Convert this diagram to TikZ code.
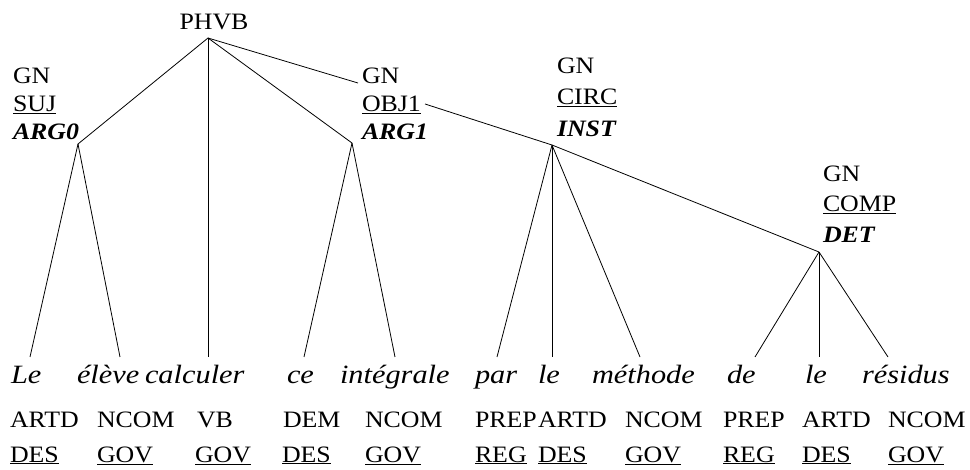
\documentclass[tikz,border=0pt]{standalone}
\usepackage{fontspec}
\setmainfont{Liberation Serif}[FakeStretch=1.1]
\newfontfamily\wordfont{Liberation Serif}[FakeStretch=1.15]
\begin{document}
\begin{tikzpicture}[x=1pt,y=-1pt,
  lbl/.style={inner sep=0pt, outer sep=0pt, anchor=base west, font=\fontsize{23.5}{28}\selectfont},
  wrd/.style={lbl, font=\fontsize{26.4}{30}\wordfont\itshape},
  arg/.style={lbl, font=\fontsize{23.5}{28}\selectfont\bfseries\itshape},
  edge/.style={line width=0.8pt}]
\useasboundingbox (0,0) rectangle (970,470);
% labels
\node[lbl, anchor=base] (phvb) at (214,30) {PHVB};
\node[lbl] (g1) at (13,84) {GN};
\node[lbl] (s1) at (13,112) {\underline{SUJ}};
\node[arg] (r1) at (13,140) {ARG0};
\node[lbl] (g2) at (362,84) {GN};
\node[lbl] (s2) at (362,112) {\underline{OBJ1}};
\node[arg] (r2) at (362,140) {ARG1};
\node[lbl] (g3) at (557,74) {GN};
\node[lbl] (s3) at (557,105) {\underline{CIRC}};
\node[arg] (r3) at (557,137) {INST};
\node[lbl] (g4) at (823,182) {GN};
\node[lbl] (s4) at (823,212) {\underline{COMP}};
\node[arg] (r4) at (823,243) {DET};
% words
\node[wrd] (w1) at (11,384) {Le};
\node[wrd] (w2) at (77,384) {élève};
\node[wrd] (w3) at (145,384) {calculer};
\node[wrd] (w4) at (287,384) {ce};
\node[wrd] (w5) at (340,384) {intégrale};
\node[wrd] (w6) at (475,384) {par};
\node[wrd] (w7) at (538,384) {le};
\node[wrd] (w8) at (592,384) {méthode};
\node[wrd] (w9) at (727,384) {de};
\node[wrd] (w10) at (805,384) {le};
\node[wrd] (w11) at (862,384) {résidus};
% tags
\node[lbl] (t1) at (10,428) {ARTD};
\node[lbl] (t2) at (97,428) {NCOM};
\node[lbl] (t3) at (197,428) {VB};
\node[lbl] (t4) at (283,428) {DEM};
\node[lbl] (t5) at (365,428) {NCOM};
\node[lbl] (t6) at (475,428) {PREP};
\node[lbl] (t7) at (538,428) {ARTD};
\node[lbl] (t8) at (625,428) {NCOM};
\node[lbl] (t9) at (723,428) {PREP};
\node[lbl] (t10) at (802,428) {ARTD};
\node[lbl] (t11) at (888,428) {NCOM};
\node[lbl] (f1) at (10,462) {\underline{DES}};
\node[lbl] (f2) at (97,462) {\underline{GOV}};
\node[lbl] (f3) at (195,462) {\underline{GOV}};
\node[lbl] (f4) at (282,462) {\underline{DES}};
\node[lbl] (f5) at (365,462) {\underline{GOV}};
\node[lbl] (f6) at (475,462) {\underline{REG}};
\node[lbl] (f7) at (538,462) {\underline{DES}};
\node[lbl] (f8) at (625,462) {\underline{GOV}};
\node[lbl] (f9) at (723,462) {\underline{REG}};
\node[lbl] (f10) at (802,462) {\underline{DES}};
\node[lbl] (f11) at (888,462) {\underline{GOV}};
% tree points
\coordinate (root) at (208,38);
\coordinate (a0) at (78,144);
\coordinate (a1) at (352,143);
\coordinate (ai) at (552,145);
\coordinate (ad) at (819,252);
\coordinate (og) at (358,83);
\coordinate (oe) at (425,104);
\foreach \n/\x in {1/30,2/120,3/208,4/304,5/395,6/497,7/552,8/640,9/755,10/819,11/888}
  \coordinate (l\n) at (\x,357);
% edges
\draw[edge] (root) -- (a0);
\draw[edge] (root) -- (l3);
\draw[edge] (root) -- (a1);
\draw[edge] (root) -- (og);
\draw[edge] (a0) -- (l1);
\draw[edge] (a0) -- (l2);
\draw[edge] (a1) -- (l4);
\draw[edge] (a1) -- (l5);
\draw[edge] (oe) -- (ai);
\draw[edge] (ai) -- (ad);
\draw[edge] (ai) -- (l6);
\draw[edge] (ai) -- (l7);
\draw[edge] (ai) -- (l8);
\draw[edge] (ad) -- (l9);
\draw[edge] (ad) -- (l10);
\draw[edge] (ad) -- (l11);
\end{tikzpicture}
\end{document}
